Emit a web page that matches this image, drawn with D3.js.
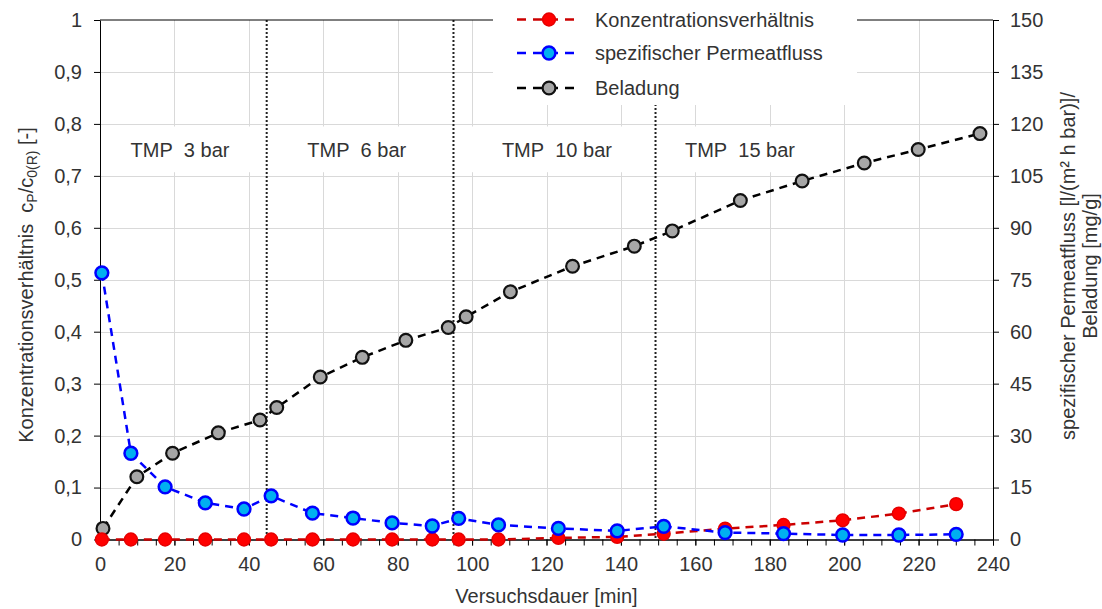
<!DOCTYPE html>
<html>
<head>
<meta charset="utf-8">
<script src="https://cdn.jsdelivr.net/npm/d3@7"></script>
<style>
  html, body { margin: 0; padding: 0; background: #fff; }
  svg { display: block; font-family: "Liberation Sans", Arial, Helvetica, sans-serif; }
</style>
</head>
<body>
<svg id="chart" width="1102" height="609"></svg>
<script>
// Sampling times [min] for concentration ratio and specific permeate flux
const sampleTime = [0.5, 8.3, 17.5, 28.3, 38.7, 46.0, 57.1, 68.0, 78.5, 89.3,
                    96.4, 107.1, 123.2, 139.0, 151.5, 168.0, 183.7, 199.6, 214.7, 230.1];
// Konzentrationsverhältnis c_P / c_0(R) [-] (left axis)
const concRatio = [0, 0, 0, 0, 0, 0, 0, 0, 0, 0,
                   0, 0, 0.003, 0.005, 0.011, 0.021, 0.028, 0.037, 0.050, 0.068];
// spezifischer Permeatfluss [l/(m² h bar)] (right axis)
const permeateFlux = [77.0, 24.9, 15.2, 10.6, 8.8, 12.6, 7.6, 6.2, 4.8, 3.9,
                      6.1, 4.2, 3.2, 2.5, 3.8, 2.0, 1.7, 1.3, 1.3, 1.5];
// Beladung [mg/g] (right axis) with its own sampling times
const loadingTime = [0.8, 9.9, 19.5, 31.8, 43.0, 47.5, 59.2, 70.5, 82.2, 93.6,
                     98.4, 110.3, 127.0, 143.6, 153.8, 172.1, 188.7, 205.4, 219.9, 236.5];
const loading = [3.2, 18.1, 24.9, 30.8, 34.5, 38.1, 46.9, 52.6, 57.5, 61.2,
                 64.3, 71.5, 78.9, 84.7, 89.1, 97.9, 103.5, 108.7, 112.6, 117.2];

// Pressure stages: switch times and labels
const stageSwitch = [44.8, 95.0, 149.3];
const stageLabels = ["TMP\u00A0 3 bar", "TMP\u00A0 6 bar", "TMP\u00A0 10 bar", "TMP\u00A0 15 bar"];
const stageLabelAt = [21.5, 69.0, 122.8, 172.0];

// Axis ticks
const xTicks = d3.range(0, 241, 20);
const xMinorTicks = d3.range(0, 241, 5);
const leftTicks = d3.range(0, 11).map(i => i / 10);
const rightTicks = d3.range(0, 151, 15);

const seriesNames = ["Konzentrationsverhältnis", "spezifischer Permeatfluss", "Beladung"];

// ---- layout ----
const svg = d3.select("#chart");
const X0 = 100, X1 = 993, Y0 = 539.5, Y1 = 20;
const FONT = 20, TXT = "#333";

const x = d3.scaleLinear().domain([0, 240]).range([X0, X1]);
const yL = d3.scaleLinear().domain([0, 1]).range([Y0, Y1]);
const yR = d3.scaleLinear().domain([0, 150]).range([Y0, Y1]);

const decimalComma = v => (v === 0 || v === 1) ? String(v) : v.toFixed(1).replace(".", ",");

// grid
const grid = svg.append("g").attr("stroke", "#d9d9d9").attr("stroke-width", 1);
grid.selectAll("line.h").data(leftTicks.slice(1, -1)).join("line")
  .attr("x1", X0).attr("x2", X1)
  .attr("y1", d => Math.round(yL(d)) + 0.5).attr("y2", d => Math.round(yL(d)) + 0.5);
grid.selectAll("line.v").data(xTicks.slice(1, -1)).join("line")
  .attr("y1", Y1).attr("y2", Y0)
  .attr("x1", d => Math.round(x(d)) + 0.5).attr("x2", d => Math.round(x(d)) + 0.5);

// stage labels with white backing
const stages = svg.append("g");
stages.selectAll("rect").data(stageLabelAt).join("rect")
  .attr("x", d => Math.max(X0 + 1, x(d) - 90))
  .attr("width", d => x(d) + 90 - Math.max(X0 + 1, x(d) - 90))
  .attr("y", yL(0.795)).attr("height", yL(0.707) - yL(0.795))
  .attr("fill", "#fff");
stages.selectAll("text").data(stageLabels).join("text")
  .attr("x", (d, i) => x(stageLabelAt[i]))
  .attr("y", yL(0.75))
  .attr("dy", "0.35em")
  .attr("text-anchor", "middle")
  .attr("font-size", FONT).attr("fill", TXT)
  .text(d => d);

// stage boundaries
svg.append("g").selectAll("line").data(stageSwitch).join("line")
  .attr("x1", d => x(d)).attr("x2", d => x(d))
  .attr("y1", Y1).attr("y2", Y0)
  .attr("stroke", "#222").attr("stroke-width", 2).attr("stroke-dasharray", "2,2");

// axes
function styleAxis(g) {
  g.selectAll("path.domain").attr("stroke", "#000").attr("stroke-width", 1);
  g.selectAll(".tick line").attr("stroke", "#000");
  g.selectAll("text").attr("font-size", FONT).attr("fill", TXT)
    .attr("font-family", "\"Liberation Sans\", Arial, sans-serif");
}
svg.append("g").attr("transform", `translate(0,${Y0})`)
  .call(d3.axisBottom(x).tickValues(xMinorTicks).tickSize(6).tickSizeOuter(0).tickFormat(""))
  .call(styleAxis);
svg.append("g").attr("transform", `translate(0,${Y0})`)
  .call(d3.axisBottom(x).tickValues(xTicks).tickSize(6).tickSizeOuter(0).tickPadding(11))
  .call(styleAxis);
svg.append("g").attr("transform", `translate(${X0},0)`)
  .call(d3.axisLeft(yL).tickValues(leftTicks).tickSize(6).tickSizeOuter(0).tickPadding(12).tickFormat(decimalComma))
  .call(styleAxis);
svg.append("g").attr("transform", `translate(${X1},0)`)
  .call(d3.axisRight(yR).tickValues(rightTicks).tickSize(6).tickSizeOuter(0).tickPadding(11))
  .call(styleAxis);
// top frame
svg.append("line").attr("x1", X0).attr("x2", X1).attr("y1", Y1).attr("y2", Y1)
  .attr("stroke", "#000").attr("stroke-width", 1);

// series
const series = [
  { name: seriesNames[2], xs: loadingTime, ys: loading, y: yR, line: "#000", fill: "#a6a6a6", stroke: "#111", sw: 2.2 },
  { name: seriesNames[0], xs: sampleTime, ys: concRatio, y: yL, line: "#cc0000", fill: "#ff0000", stroke: "#e60000", sw: 1.5 },
  { name: seriesNames[1], xs: sampleTime, ys: permeateFlux, y: yR, line: "#0000ff", fill: "#00b0f0", stroke: "#0000ff", sw: 2.5 }
];
const R = 6.4;
series.forEach(s => {
  const pts = s.xs.map((t, i) => [t, s.ys[i]]);
  const g = svg.append("g");
  g.append("path")
    .attr("d", d3.line().x(d => x(d[0])).y(d => s.y(d[1]))(pts))
    .attr("fill", "none").attr("stroke", s.line)
    .attr("stroke-width", 2.5).attr("stroke-dasharray", "8,6");
  g.selectAll("circle").data(pts).join("circle")
    .attr("cx", d => x(d[0])).attr("cy", d => s.y(d[1])).attr("r", R)
    .attr("fill", s.fill).attr("stroke", s.stroke).attr("stroke-width", s.sw);
});

// legend
const legendStyle = [series[1], series[2], series[0]];
const leg = svg.append("g");
leg.append("rect").attr("x", 493).attr("y", 0).attr("width", 364).attr("height", 105).attr("fill", "#fff");
const rowY = [19.5, 53, 88];
legendStyle.forEach((s, i) => {
  const ry = rowY[i];
  leg.append("line").attr("x1", 517).attr("x2", 581).attr("y1", ry).attr("y2", ry)
    .attr("stroke", s.line).attr("stroke-width", 2.5).attr("stroke-dasharray", "9,7");
  leg.append("circle").attr("cx", 549).attr("cy", ry).attr("r", R)
    .attr("fill", s.fill).attr("stroke", s.stroke).attr("stroke-width", s.sw);
  leg.append("text").attr("x", 595).attr("y", ry).attr("dy", "0.35em")
    .attr("font-size", FONT).attr("fill", TXT).text(s.name);
});

// axis titles
svg.append("text")
  .attr("x", (X0 + X1) / 2).attr("y", 603)
  .attr("text-anchor", "middle").attr("font-size", FONT).attr("fill", TXT)
  .text("Versuchsdauer [min]");

const lt = svg.append("text")
  .attr("transform", "translate(33,285) rotate(-90)")
  .attr("text-anchor", "middle").attr("font-size", FONT).attr("fill", TXT);
lt.append("tspan").text("Konzentrationsverhältnis\u00A0 c");
lt.append("tspan").attr("font-size", 14).attr("dy", 4).text("P");
lt.append("tspan").attr("dy", -4).text("/c");
lt.append("tspan").attr("font-size", 14).attr("dy", 4).text("0(R)");
lt.append("tspan").attr("dy", -4).text(" [-]");

const rt = svg.append("g").attr("transform", "translate(0,266)");
rt.append("text")
  .attr("transform", "translate(1075,0) rotate(-90)")
  .attr("text-anchor", "middle").attr("font-size", FONT).attr("fill", TXT)
  .text("spezifischer Permeatfluss [l/(m² h bar)]/");
rt.append("text")
  .attr("transform", "translate(1097,0) rotate(-90)")
  .attr("text-anchor", "middle").attr("font-size", FONT).attr("fill", TXT)
  .text("Beladung [mg/g]");
</script>
</body>
</html>
